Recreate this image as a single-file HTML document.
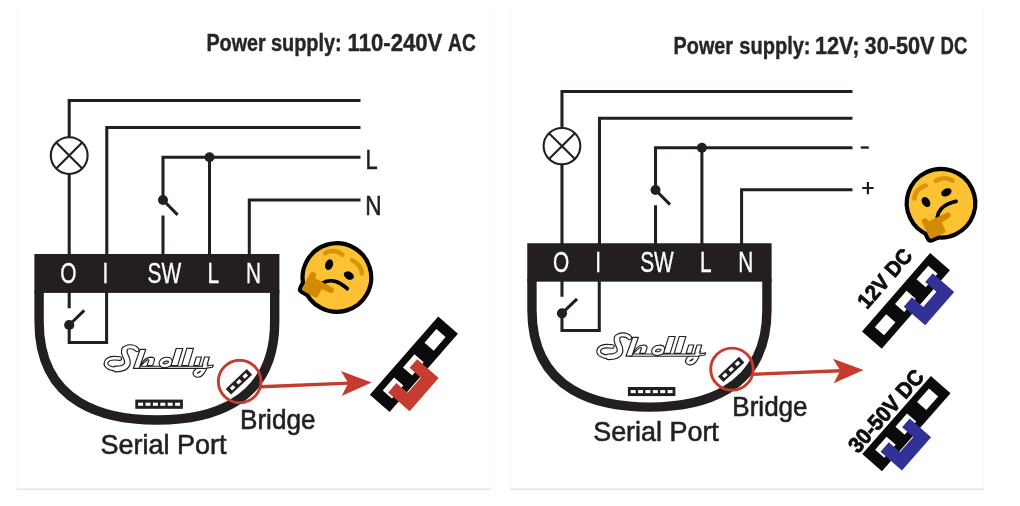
<!DOCTYPE html>
<html>
<head>
<meta charset="utf-8">
<title>Shelly bridge wiring</title>
<style>
  html, body { margin: 0; padding: 0; background: #ffffff; }
  body { width: 1020px; height: 506px; overflow: hidden; font-family: "Liberation Sans", sans-serif; }
  svg { display: block; will-change: transform; opacity: 0.999; }
  text { font-family: "Liberation Sans", sans-serif; }
  .w { fill: none; stroke: #231f20; stroke-width: 3.05; stroke-linejoin: miter; stroke-linecap: butt; }
  .k { fill: #231f20; }
  .lbl { fill: #231f20; font-size: 28px; stroke: #231f20; stroke-width: 0.6; }
  .term { fill: #ffffff; font-size: 29px; stroke: #ffffff; stroke-width: 0.35; }
  .lo { fill: #ffffff; stroke: #231f20; stroke-width: 1.15; }
  .ttl { fill: #262626; font-size: 23.5px; font-weight: bold; stroke: #262626; stroke-width: 0.4; }
</style>
</head>
<body>
<svg width="1020" height="506" viewBox="0 0 1020 506">
  <defs>
    <!-- ============ device + wiring (left-diagram coordinates) ============ -->
    <g id="dev">
      <!-- wires -->
      <path class="w" d="M69.2,255 V174 M69.2,137 V100.4 H360.5"/>
      <path class="w" d="M106.8,255 V127.4 H360.5"/>
      <path class="w" d="M163,255 V215.4 M163,200 V157.2 H360.5"/>
      <path class="w" d="M209.5,255 V157.2"/>
      <path class="w" d="M249.3,255 V199.9 H360.5"/>
      <path class="w" d="M163,200 L177.6,214.9"/>
      <circle class="k" cx="163" cy="200" r="5"/>
      <circle class="k" cx="209.5" cy="157.2" r="5"/>
      <!-- lamp -->
      <circle cx="69.2" cy="155.6" r="18.4" fill="#fff" stroke="#231f20" stroke-width="2.1"/>
      <path d="M56.2,142.6 L82.2,168.6 M82.2,142.6 L56.2,168.6" fill="none" stroke="#231f20" stroke-width="2.1"/>
      <!-- body -->
      <path d="M39.1,290 V321.7 C39.1,406 108,420 156.9,420 C205.8,420 274.7,406 274.7,321.7 V290" fill="none" stroke="#231f20" stroke-width="9.4"/>
      <rect class="k" x="34.4" y="254" width="245" height="38.9"/>
      <!-- terminal labels -->
      <text class="term" transform="translate(68.3,283.3) scale(0.72,1)" text-anchor="middle">O</text>
      <text class="term" transform="translate(105.4,283.3) scale(0.72,1)" text-anchor="middle">I</text>
      <text class="term" transform="translate(164.4,283.3) scale(0.72,1)" text-anchor="middle">SW</text>
      <text class="term" transform="translate(213.4,283.3) scale(0.72,1)" text-anchor="middle">L</text>
      <text class="term" transform="translate(253.6,283.3) scale(0.72,1)" text-anchor="middle">N</text>
      <!-- internal relay -->
      <path class="w" d="M69.2,292 V308.3 M69.2,325 V342.4 H106.6 V292"/>
      <path class="w" d="M69.2,325 L84.3,310.3"/>
      <circle class="k" cx="69.2" cy="325" r="5.1"/>
      <!-- serial port -->
      <rect class="k" x="135.3" y="399.6" width="47.6" height="9.2"/>
      <g fill="#fff">
        <rect x="138.1" y="402.7" width="5" height="3.1"/>
        <rect x="145.5" y="402.7" width="5" height="3.1"/>
        <rect x="152.9" y="402.7" width="5" height="3.1"/>
        <rect x="160.3" y="402.7" width="5" height="3.1"/>
        <rect x="167.7" y="402.7" width="5" height="3.1"/>
        <rect x="175.1" y="402.7" width="5" height="3.1"/>
      </g>
      <!-- bridge pins inside circle -->
      <g transform="translate(238.9,381.8) rotate(-43.4)">
        <rect class="k" x="-14.5" y="-3.9" width="29" height="7.8"/>
        <rect x="-11" y="-1.7" width="4.6" height="3.4" fill="#fff"/>
        <rect x="-2.3" y="-1.7" width="4.6" height="3.4" fill="#fff"/>
        <rect x="6.4" y="-1.7" width="4.6" height="3.4" fill="#fff"/>
      </g>
      <circle cx="239.65" cy="381.5" r="21.3" fill="none" stroke="#c63b2d" stroke-width="2.9"/>
      <!-- arrow -->
      <path d="M261,386.7 L349,383.1" fill="none" stroke="#c63b2d" stroke-width="3.4"/>
      <path d="M371.6,382.4 L340.9,370.9 L348.3,383 L341.7,395.9 Z" fill="#c63b2d"/>
      <!-- labels -->
      <text class="lbl" x="240" y="428.6" textLength="75.5" lengthAdjust="spacingAndGlyphs">Bridge</text>
      <text class="lbl" x="100.5" y="453.8" textLength="126" lengthAdjust="spacingAndGlyphs">Serial Port</text>
      <!-- logo -->
      <g id="logo" stroke-linejoin="round" stroke-linecap="round">
        <!-- S -->
        <g fill="none" stroke="#231f20">
          <path d="M137,349.6 C133.5,345.6 126,346 124.6,349.6" stroke-width="5.2"/>
          <path d="M124.6,349.6 C122.4,354.5 129.6,359.5 127,364.6 C125.4,367.6 121,369 116,369" stroke-width="6.8"/>
          <path d="M116,369 C109,369 105,365.6 106.2,362.2 C107.4,358.7 113,357.6 119.8,358.6" stroke-width="4.8"/>
        </g>
        <g fill="none" stroke="#ffffff">
          <path d="M137,349.6 C133.5,345.6 126,346 124.6,349.6" stroke-width="2.9"/>
          <path d="M124.6,349.6 C122.4,354.5 129.6,359.5 127,364.6 C125.4,367.6 121,369 116,369" stroke-width="4.5"/>
          <path d="M116,369 C109,369 105,365.6 106.2,362.2 C107.4,358.7 113,357.6 119.8,358.6" stroke-width="2.5"/>
        </g>
        <!-- y descender -->
        <path d="M205.8,364.5 C204.2,371 200.6,376 196.8,375 C193.6,374 195,370.6 201.4,368.7" fill="none" stroke="#231f20" stroke-width="5.3"/>
        <path d="M205.8,364.5 C204.2,371 200.6,376 196.8,375 C193.6,374 195,370.6 201.4,368.7" fill="none" stroke="#ffffff" stroke-width="3"/>
        <!-- underline -->
        <path class="lo" d="M138.4,366.2 H206 L213.3,365 L212.5,367.2 L205,368.4 H137.6 Z"/>
        <!-- h -->
        <path class="lo" d="M140.1,349.4 H145.8 L139.3,368.3 H133.4 Z"/>
        <path class="lo" d="M141.6,363.4 C143.4,360.4 147,357.3 151,357.1 C153.8,357.1 155,358.6 154.4,360.4 L152.6,365.6 H147 L148.8,360.7 C149.1,359.6 148,359.3 146.8,360.2 C144.8,361.6 142.6,363.8 141,365.6 Z"/>
        <!-- e -->
        <path d="M170.4,361.3 C170,358.4 163.6,358.3 161.4,362 C159.8,365 163.4,366.5 167,365.4 C169.6,364.6 170.7,362.8 170.4,361.3 Z" fill="none" stroke="#231f20" stroke-width="5"/>
        <path d="M170.4,361.3 C170,358.4 163.6,358.3 161.4,362 C159.8,365 163.4,366.5 167,365.4 C169.6,364.6 170.7,362.8 170.4,361.3 Z" fill="none" stroke="#ffffff" stroke-width="2.7"/>
        <!-- l l -->
        <path class="lo" d="M176.2,348.5 H182.8 L177.6,365.6 H171 Z"/>
        <path class="lo" d="M186.8,348.4 H193.5 L188.3,365.6 H181.7 Z"/>
        <!-- y -->
        <path class="lo" d="M196.3,357 H201.5 L198.9,365.6 H193.7 Z"/>
        <path class="lo" d="M204.6,357 H209.4 L206.9,365.4 H202.1 Z"/>
        <path d="M203.2,364.6 L207.3,364.6 L206.4,367.4 L203,367.6 Z" fill="#ffffff"/>
      </g>
      <!-- /logo -->
    </g>

    <!-- ============ jumper block (local coords: u along bar, v across) ============ -->
    <g id="bar">
      <path fill-rule="evenodd" fill="#0b0b0c" d="M-52,-13.1 H52 V13.1 H-52 Z M23.3,-6.2 H41.3 V6 H23.3 Z M-9.5,-6.2 H8 V6 H-9.5 Z M-40.3,-6.2 H-23 V6 H-40.3 Z"/>
    </g>
    <path id="ujump" d="M-38.2,-0.9 H-25.6 V14 H-5.5 V-0.9 H6 V27.6 H-38.2 Z"/>

    <!-- ============ thinking emoji (upright, centred at 0,0) ============ -->
    <path id="hand" d="M-25.4,9.3 a3.05,3.05 0 0 1 6.1,0 L-18.7,11 L0.8,11 a2.8,2.8 0 0 1 0.3,5.6 L-7.6,17.6 L-7.9,25.6 q0,2.4 -2.4,2.4 L-23.6,27.7 q-1.9,0 -1.9,-1.9 Z"/>
    <g id="emoji">
      <!-- hand outline (behind face) -->
      <use href="#hand" fill="#d38b00" stroke="#000" stroke-width="7.8" stroke-linejoin="round"/>
      <circle cx="0" cy="0" r="34.3" fill="#fcc233" stroke="#000" stroke-width="4.2"/>
      <!-- brows -->
      <path d="M-22,-15.8 C-19,-21.5 -12,-24 -6,-22.6" fill="none" stroke="#d99509" stroke-width="4.5" stroke-linecap="round"/>
      <path d="M5.2,-22.4 C11.5,-23 17.5,-20 20.2,-15.4" fill="none" stroke="#d99509" stroke-width="4.5" stroke-linecap="round"/>
      <!-- eyes -->
      <ellipse cx="-13" cy="-7.6" rx="3.8" ry="5.5" fill="#000" transform="rotate(-8 -13 -7.6)"/>
      <ellipse cx="9.6" cy="-7.4" rx="5.4" ry="3.8" fill="#000"/>
      <!-- mouth -->
      <path d="M-9.6,11.2 C-6,5.5 1,3.4 6.5,3.7 C9.5,3.9 12,4.2 14.4,4.9" fill="none" stroke="#000" stroke-width="3.8" stroke-linecap="round"/>
      <!-- hand fill (above face) -->
      <use href="#hand" fill="#d38b00"/>
    </g>
  </defs>

  <!-- panel frames -->
  <path d="M17.5,6.5 V489 M490.5,6.5 V489 M510.5,6.5 V489 M983.5,6.5 V489" fill="none" stroke="#f8f8f8" stroke-width="1"/>
  <path d="M17,489.3 H491 M510,489.3 H984" stroke="#e6e6e6" stroke-width="1.6" fill="none"/>

  <!-- titles -->
  <text class="ttl" x="206.4" y="51.0" textLength="59.3" lengthAdjust="spacingAndGlyphs">Power</text>
  <text class="ttl" x="270.9" y="51.0" textLength="70.8" lengthAdjust="spacingAndGlyphs">supply:</text>
  <text class="ttl" x="347.6" y="51.0" textLength="94.8" lengthAdjust="spacingAndGlyphs">110-240V</text>
  <text class="ttl" x="448.1" y="51.0" textLength="27.9" lengthAdjust="spacingAndGlyphs">AC</text>
  <text class="ttl" x="673.6" y="53.9" textLength="59.4" lengthAdjust="spacingAndGlyphs">Power</text>
  <text class="ttl" x="739.3" y="53.9" textLength="71.2" lengthAdjust="spacingAndGlyphs">supply:</text>
  <text class="ttl" x="814.9" y="53.9" textLength="44.6" lengthAdjust="spacingAndGlyphs">12V;</text>
  <text class="ttl" x="864.6" y="53.9" textLength="70.0" lengthAdjust="spacingAndGlyphs">30-50V</text>
  <text class="ttl" x="940.6" y="53.9" textLength="26.8" lengthAdjust="spacingAndGlyphs">DC</text>

  <!-- LEFT diagram -->
  <use href="#dev"/>
  <text class="lbl" transform="translate(365.4,169) scale(0.78,1)">L</text>
  <text class="lbl" transform="translate(365.3,214.8) scale(0.81,1)">N</text>
  <g transform="translate(413.9,364.3) rotate(-48.9)">
    <use href="#bar"/>
    <use href="#ujump" fill="#c63c2e"/>
  </g>
  <g transform="translate(336.9,277.5) rotate(28.4)"><use href="#emoji"/></g>

  <!-- RIGHT diagram -->
  <g transform="matrix(0.9973,0,0,0.9873,492.96,-7.52)"><use href="#dev"/></g>
  <rect class="k" x="860.8" y="146.3" width="8" height="2.4"/>
  <path d="M862.2,188 H873.6 M867.9,182 V194.2" stroke="#231f20" stroke-width="2.2" fill="none"/>
  <g transform="translate(905.95,300.9) rotate(-49.05)">
    <use href="#bar"/>
    <g transform="translate(32.4,3)"><use href="#ujump" fill="#323296"/></g>
    <text x="-32.3" y="-23.4" style="font-size:21.5px;font-weight:bold;fill:#0d0d0d;stroke:#0d0d0d;stroke-width:0.8" textLength="71" lengthAdjust="spacingAndGlyphs">12V DC</text>
  </g>
  <g transform="translate(906.4,423.6) rotate(-48.7)">
    <use href="#bar"/>
    <use href="#ujump" fill="#323296"/>
    <text x="-55" y="-16.2" style="font-size:22px;font-weight:bold;fill:#0d0d0d;stroke:#0d0d0d;stroke-width:0.8" textLength="102" lengthAdjust="spacingAndGlyphs">30-50V DC</text>
  </g>
  <g transform="translate(941,203.2) rotate(-25.9)"><use href="#emoji"/></g>
</svg>
</body>
</html>
